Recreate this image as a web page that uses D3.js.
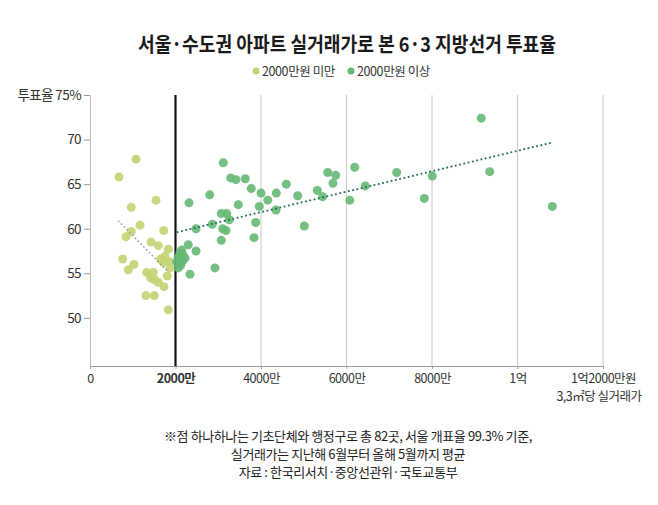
<!DOCTYPE html>
<html>
<head>
<meta charset="utf-8">
<script src="https://cdn.jsdelivr.net/npm/d3@7"></script>
<style>
  body { margin: 0; background: #fff; }
  text { font-family: "Noto Sans CJK KR", "Noto Sans", sans-serif; }
</style>
</head>
<body>
<div id="chart"></div>
<script>
// price per 3.3m2 (만원) and turnout (%) for each district
let lowPrice = [1076, 678, 1544, 966, 1170, 1724, 966, 842, 1427, 1598, 1832, 765, 1029, 896,
  1654, 1754, 1715, 1855, 1871, 1326, 1481, 1420, 1504, 1598, 1731, 1808, 1310, 1504, 1832];
let lowTurnout = [67.8, 65.8, 63.2, 62.4, 60.4, 59.8, 59.7, 59.1, 58.5, 58.1, 57.7, 56.6, 56.0, 55.4,
  56.6, 56.9, 56.2, 56.3, 55.6, 55.1, 55.1, 54.5, 54.3, 54.0, 53.5, 54.7, 52.5, 52.5, 50.9];

let highPrice = [3118, 3291, 3415, 3633, 3773, 4000, 4157, 4358, 4592, 4858, 5317, 5443, 5560, 5747,
  5684, 6192, 6075, 2800, 2316, 3469, 3960, 4351, 3071, 3198, 3258, 3876, 2861, 2480, 3104, 3181,
  5013, 3071, 3836, 2299, 2480, 2924, 2339, 6440, 7174, 8007, 7820, 9153, 9350, 10814,
  2145, 2105, 2182, 2065, 2168, 2028, 2122, 2065, 2222];
let highTurnout = [67.4, 65.7, 65.5, 65.6, 64.5, 64.0, 63.2, 64.0, 65.0, 63.7, 64.3, 63.6, 66.3, 66.0,
  65.1, 66.9, 63.2, 63.8, 62.9, 62.7, 62.5, 62.1, 61.7, 61.7, 61.0, 60.7, 60.5, 60.0, 60.0, 59.8,
  60.3, 58.7, 59.0, 58.2, 57.5, 55.6, 54.9, 64.8, 66.3, 65.9, 63.4, 72.4, 66.4, 62.5,
  57.6, 57.3, 57.0, 56.8, 56.4, 56.3, 55.9, 55.6, 56.7];

// dotted trend lines [price, turnout]
let lowTrend = [[662, 60.9], [1800, 55.3]];
let highTrend = [[2028, 59.6], [10837, 69.7]];

let xTicks = [0, 2000, 4000, 6000, 8000, 10000, 12000];
let xTickLabels = ["0", "2000만", "4000만", "6000만", "8000만", "1억", "1억2000만원"];
let yTicks = [50, 55, 60, 65, 70, 75];
let yTickLabels = ["50", "55", "60", "65", "70", "투표율 75%"];

let legendLabels = ["2000만원 미만", "2000만원 이상"];
let notes = [
  "※점 하나하나는 기초단체와 행정구로 총 82곳, 서울 개표율 99.3% 기준,",
  "실거래가는 지난해 6월부터 올해 5월까지 평균",
  "자료 : 한국리서치·중앙선관위·국토교통부"
];

let width = 658;
let height = 505;
let lowColor = "#c3d472";
let highColor = "#66b874";

let svg = d3.select("#chart")
  .append("svg")
  .attr("width", width).attr("height", height);

let xScale = d3.scaleLinear()
  .domain([0, 12000])
  .range([90, 603]);
let yScale = d3.scaleLinear()
  .domain([44.6, 75])
  .range([366, 95]);

let plotBottom = yScale(44.6);
let plotTop = yScale(75);

// title
svg.append("text")
  .attr("x", 347).attr("y", 52)
  .attr("text-anchor", "middle")
  .attr("font-size", 20.5)
  .attr("font-weight", 700)
  .attr("fill", "#1a1a1a")
  .attr("textLength", 418)
  .attr("lengthAdjust", "spacingAndGlyphs")
  .text("서울·수도권 아파트 실거래가로 본 6·3 지방선거 투표율");

// legend
let legend = svg.append("g");
let legendX = [256, 351];
legend.selectAll("circle")
  .data(legendLabels)
  .enter()
  .append("circle")
  .attr("cx", (d, i) => legendX[i])
  .attr("cy", 71)
  .attr("r", 3.5)
  .attr("fill", (d, i) => i === 0 ? lowColor : highColor);
legend.selectAll("text")
  .data(legendLabels)
  .enter()
  .append("text")
  .attr("x", (d, i) => legendX[i] + 6)
  .attr("y", 75.5)
  .attr("font-size", 12.5)
  .attr("fill", "#333")
  .attr("letter-spacing", -0.4)
  .text(d => d);

// vertical grid lines
svg.append("g")
  .selectAll("line")
  .data(xTicks.filter(d => d > 2000))
  .enter()
  .append("line")
  .attr("x1", d => xScale(d)).attr("x2", d => xScale(d))
  .attr("y1", plotTop).attr("y2", plotBottom)
  .attr("stroke", "#c8c8c8")
  .attr("stroke-width", 1);

// 2000만 boundary
svg.append("line")
  .attr("x1", xScale(2000)).attr("x2", xScale(2000))
  .attr("y1", plotTop).attr("y2", plotBottom)
  .attr("stroke", "#111")
  .attr("stroke-width", 2.2);

// axes
let xAxis = svg.append("g")
  .attr("transform", `translate(0, ${plotBottom})`)
  .call(d3.axisBottom(xScale)
    .tickValues(xTicks)
    .tickSize(3)
    .tickSizeOuter(0)
    .tickFormat((d, i) => xTickLabels[i]));
xAxis.select(".domain").attr("stroke", "#999");
xAxis.selectAll(".tick line").attr("stroke", "#999");
xAxis.selectAll(".tick text")
  .attr("font-size", 12.5)
  .attr("fill", "#333")
  .attr("dy", "0.85em")
  .attr("letter-spacing", -0.5)
  .attr("font-weight", d => d === 2000 ? 700 : 400)
  .attr("font-family", "Noto Sans CJK KR");
xAxis.append("text")
  .attr("x", xScale(12000) - 4)
  .attr("y", 35)
  .attr("text-anchor", "middle")
  .attr("font-size", 12.5)
  .attr("fill", "#333")
  .attr("letter-spacing", -0.5)
  .text("3,3㎡당 실거래가");

let yAxis = svg.append("g")
  .attr("transform", "translate(90, 0)")
  .call(d3.axisLeft(yScale)
    .tickValues(yTicks)
    .tickSize(6)
    .tickSizeOuter(0)
    .tickFormat((d, i) => yTickLabels[i]));
yAxis.select(".domain").attr("stroke", "#bbb");
yAxis.selectAll(".tick line").attr("stroke", "#999");
yAxis.selectAll(".tick text")
  .attr("font-size", 13.5)
  .attr("fill", "#333")
  .attr("letter-spacing", -0.6)
  .attr("font-family", "Noto Sans CJK KR");

// points
let lowData = lowPrice.map((p, i) => ({ price: p, turnout: lowTurnout[i] }));
let highData = highPrice.map((p, i) => ({ price: p, turnout: highTurnout[i] }));

svg.append("g")
  .selectAll("circle")
  .data(lowData)
  .enter()
  .append("circle")
  .attr("cx", d => xScale(d.price))
  .attr("cy", d => yScale(d.turnout))
  .attr("r", 4.5)
  .attr("fill", lowColor)
  .attr("fill-opacity", 0.9);

svg.append("g")
  .selectAll("circle")
  .data(highData)
  .enter()
  .append("circle")
  .attr("cx", d => xScale(d.price))
  .attr("cy", d => yScale(d.turnout))
  .attr("r", 4.5)
  .attr("fill", highColor)
  .attr("fill-opacity", 0.9);

// trend lines
let line = d3.line()
  .x(d => xScale(d[0]))
  .y(d => yScale(d[1]));

svg.append("path")
  .attr("d", line(lowTrend))
  .attr("fill", "none")
  .attr("stroke", "#8f9e86")
  .attr("stroke-width", 1.5)
  .attr("stroke-dasharray", "1.5 2.5");

svg.append("path")
  .attr("d", line(highTrend))
  .attr("fill", "none")
  .attr("stroke", "#1f6b55")
  .attr("stroke-width", 1.8)
  .attr("stroke-dasharray", "1.8 2.6");

// notes
svg.append("g")
  .selectAll("text")
  .data(notes)
  .enter()
  .append("text")
  .attr("x", 348)
  .attr("y", (d, i) => 441 + i * 18)
  .attr("text-anchor", "middle")
  .attr("font-size", 13)
  .attr("fill", "#222")
  .attr("letter-spacing", -0.4)
  .text(d => d);
</script>
</body>
</html>
